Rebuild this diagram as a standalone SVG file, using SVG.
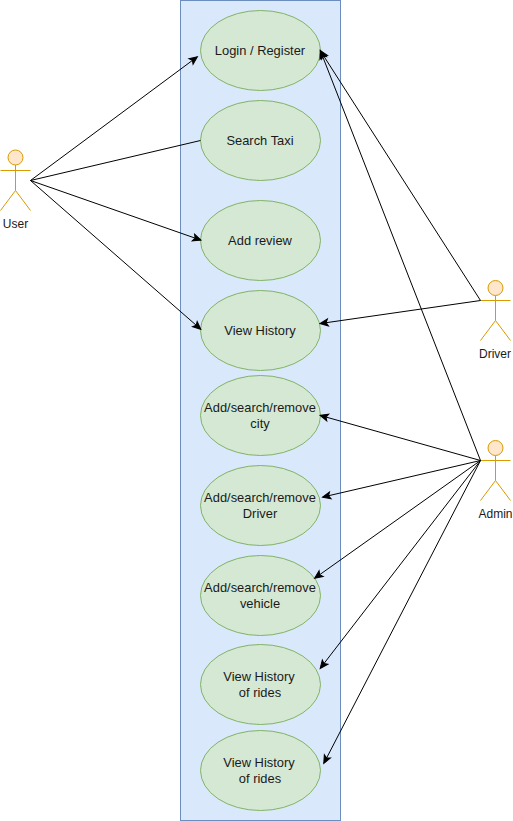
<svg xmlns="http://www.w3.org/2000/svg" width="513" height="821" viewBox="0 0 513 821">
<style>
text{font-family:"Liberation Sans",Arial,sans-serif;font-size:12px;fill:#1a1a1a;text-anchor:middle}
.uc{fill:#d5e8d4;stroke:#82b366}
.ut{font-size:12.9px}
.a{fill:#ffe6cc;stroke:#d79b00}
.al{fill:none;stroke:#d79b00}
.c{fill:none;stroke:#000;stroke-width:1}
</style>
<defs>
<marker id="arr" markerUnits="userSpaceOnUse" markerWidth="12" markerHeight="12" refX="9" refY="5" orient="auto" viewBox="0 0 12 10"><path d="M1.500 1.500L9.500 5L1.500 8.500L3.300 5Z" fill="#000" stroke="#000"/></marker>
</defs>
<rect id="boundary" x="180.500" y="0.500" width="160" height="820" fill="#dae8fc" stroke="#6c8ebf"/>
<g id="uc1"><ellipse class="uc" cx="260.500" cy="50.500" rx="60" ry="40"/><text class="ut" x="260" y="55">Login / Register</text></g>
<g id="uc2"><ellipse class="uc" cx="260.500" cy="140.500" rx="60" ry="40"/><text class="ut" x="260" y="145">Search Taxi</text></g>
<g id="uc3"><ellipse class="uc" cx="260.500" cy="240.500" rx="60" ry="40"/><text class="ut" x="260" y="245">Add review</text></g>
<g id="uc4"><ellipse class="uc" cx="260.500" cy="330.500" rx="60" ry="40"/><text class="ut" x="260" y="335">View History</text></g>
<g id="uc5"><ellipse class="uc" cx="260.500" cy="415.500" rx="60" ry="40"/><text class="ut" x="260" y="412">Add/search/remove</text><text class="ut" x="260" y="428">city</text></g>
<g id="uc6"><ellipse class="uc" cx="260.500" cy="505.500" rx="60" ry="40"/><text class="ut" x="260" y="502">Add/search/remove</text><text class="ut" x="260" y="518">Driver</text></g>
<g id="uc7"><ellipse class="uc" cx="260.500" cy="595.500" rx="60" ry="40"/><text class="ut" x="260" y="592">Add/search/remove</text><text class="ut" x="260" y="608">vehicle</text></g>
<g id="uc8"><ellipse class="uc" cx="260.500" cy="684.500" rx="60" ry="40"/><text class="ut" x="259" y="681">View History</text><text class="ut" x="260" y="697">of rides</text></g>
<g id="uc9"><ellipse class="uc" cx="260.500" cy="770.500" rx="60" ry="40"/><text class="ut" x="259" y="767">View History</text><text class="ut" x="260" y="783">of rides</text></g>
<g id="user"><circle class="a" cx="15.500" cy="157.500" r="7.500"/><path class="al" d="M15.500 165V190.500M0.500 170.500H30.500M15.500 190.500L0.500 210.500M15.500 190.500L30.500 210.500"/><text x="15.500" y="228">User</text></g>
<g id="driver"><circle class="a" cx="495.500" cy="288" r="7.500"/><path class="al" d="M495.500 295.500V320.500M480.500 300.500H510.500M495.500 320.500L480.500 340.500M495.500 320.500L510.500 340.500"/><text x="495" y="358">Driver</text></g>
<g id="admin"><circle class="a" cx="495.500" cy="448" r="7.500"/><path class="al" d="M495.500 455.500V480.500M480.500 460.500H510.500M495.500 480.500L480.500 500.500M495.500 480.500L510.500 500.500"/><text x="495.500" y="518">Admin</text></g>
<g id="connectors">
<path class="c" marker-end="url(#arr)" d="M30.500 180.500L197 57"/>
<path class="c" d="M30.500 180.500L200.500 140.500"/>
<path class="c" marker-end="url(#arr)" d="M30.500 180.500L200.500 240"/>
<path class="c" marker-end="url(#arr)" d="M30.500 180.500L200.500 329"/>
<path class="c" marker-end="url(#arr)" d="M480.500 300.500L320.500 51"/>
<path class="c" marker-end="url(#arr)" d="M480.500 300.500L320.500 323.500"/>
<path class="c" marker-end="url(#arr)" d="M480.500 460.500L320.500 51"/>
<path class="c" marker-end="url(#arr)" d="M480.500 460.500L320.500 415.500"/>
<path class="c" marker-end="url(#arr)" d="M480.500 460.500L323 497"/>
<path class="c" marker-end="url(#arr)" d="M480.500 460.500L315 578"/>
<path class="c" marker-end="url(#arr)" d="M480.500 460.500L320.500 668"/>
<path class="c" marker-end="url(#arr)" d="M480.500 460.500L324 763"/>
</g>
</svg>
